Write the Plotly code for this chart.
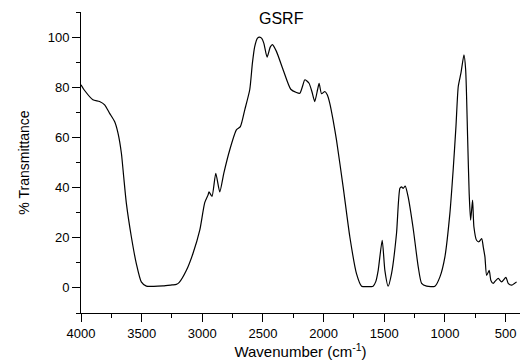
import plotly.graph_objects as go

wavenumber = [4000, 3970, 3902, 3847, 3805, 3764, 3723, 3695, 3667, 3648, 3626, 3585, 3544, 3503, 3461,
              3400, 3324, 3250, 3214, 3190, 3131, 3077, 3021, 2980, 2953, 2945, 2920, 2889, 2856, 2823,
              2774, 2719, 2686, 2650, 2609, 2587, 2568, 2545, 2527, 2510, 2493, 2466, 2440, 2422, 2389,
              2334, 2271, 2224, 2196, 2170, 2155, 2120, 2095, 2073, 2050, 2037, 2017, 1990, 1970, 1949,
              1922, 1894, 1839, 1784, 1729, 1687, 1640, 1592, 1570, 1550, 1517, 1495, 1468, 1440, 1399,
              1371, 1357, 1344, 1327, 1303, 1261, 1220, 1192, 1151, 1082, 1041, 1000, 959, 932, 909,
              890, 868, 843, 829, 813, 800, 788, 772, 761, 739, 720, 697, 684, 670, 656,
              635, 621, 602, 580, 560, 533, 497, 478, 450, 409]
transmittance = [81, 78.7, 75, 74.3, 73, 69.6, 66.3, 61.7, 53.7, 44.3, 33.7, 20.4, 9.7, 2.4, 0.7,
                 0.6, 0.8, 1.2, 1.4, 2.2, 7, 13.7, 23, 34, 37, 38.3, 36.5, 45.7, 38.3, 45.7,
                 55, 63, 64.3, 71, 79, 89.6, 96.2, 99.6, 100, 99.5, 97.6, 92, 96, 97, 94.3,
                 87, 79.2, 77.9, 77.6, 81, 83, 81.6, 78, 74.3, 79, 81.6, 77.4, 78.3, 77, 73.6,
                 67, 59, 40.3, 20.4, 5.7, 0.7, 0.5, 0.7, 2.5, 7, 19, 7, 0.7, 5.7, 21.7,
                 39.7, 40.3, 39.7, 40.6, 36.3, 23.5, 8.4, 1.8, 0.7, 0.7, 4.4, 12.4, 29.7, 47, 64.3,
                 80.3, 85.6, 92.9, 87, 60.3, 37.7, 27, 35, 24.4, 19, 18.4, 19.7, 16.4, 12.4, 5,
                 7, 3, 1.8, 3, 3.8, 2.4, 4.2, 1.8, 1.1, 2.4]

x_ticks = [4000, 3500, 3000, 2500, 2000, 1500, 1000, 500]
y_ticks = [0, 20, 40, 60, 80, 100]

FONT = "Arial, Liberation Sans, sans-serif"

fig = go.Figure()
fig.add_trace(go.Scatter(x=wavenumber, y=transmittance, mode="lines",
                         line=dict(color="black", width=1.2, shape="spline", smoothing=0.6),
                         showlegend=False, hoverinfo="skip"))

fig.update_layout(
    width=520, height=362,
    margin=dict(l=81, r=0, t=12, b=49),
    paper_bgcolor="white", plot_bgcolor="white",
    font=dict(family=FONT, color="black", size=13),
    annotations=[dict(text="GSRF", xref="paper", yref="paper", x=0.457, y=0.98,
                      xanchor="center", yanchor="middle", showarrow=False,
                      font=dict(size=16, family=FONT, color="black"))],
)
fig.update_xaxes(
    range=[4000, 381], showgrid=False, zeroline=False,
    showline=True, linecolor="black", linewidth=1,
    ticks="outside", ticklen=8, tickwidth=1, tickcolor="black",
    tickvals=x_ticks, ticktext=[str(v) for v in x_ticks],
    tickfont=dict(size=13),
    minor=dict(ticks="outside", ticklen=4, tickwidth=1, tickcolor="black", dtick=250, tick0=0, showgrid=False),
    title=dict(text="Wavenumber (cm<sup>-1</sup>)", font=dict(size=15), standoff=6),
)
fig.update_yaxes(
    range=[-10, 110], showgrid=False, zeroline=False,
    showline=True, linecolor="black", linewidth=1,
    ticks="outside", ticklen=8, tickwidth=1, tickcolor="black",
    tickvals=y_ticks, ticktext=[str(v) for v in y_ticks],
    tickfont=dict(size=13),
    minor=dict(ticks="outside", ticklen=4, tickwidth=1, tickcolor="black", dtick=10, tick0=-10, showgrid=False),
    title=dict(text="% Transmittance", font=dict(size=14), standoff=14),
)

fig.write_html("out.html")
